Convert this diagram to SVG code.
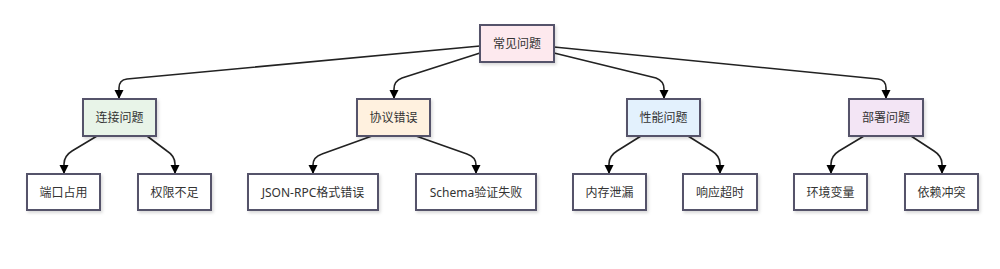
<svg xmlns="http://www.w3.org/2000/svg" width="1000" height="269" viewBox="0 0 1000 269">
<style>
.box{stroke:#55536a;stroke-width:2;filter:url(#sh)}
.t{font-family:"Noto Sans","Noto Sans CJK SC",sans-serif;font-size:12px;fill:#333;text-anchor:middle;dominant-baseline:central}
.e{fill:none;stroke:#222;stroke-width:1.6;marker-end:url(#ah)}
</style>
<defs>
<marker id="ah" markerUnits="userSpaceOnUse" markerWidth="10" markerHeight="10" refX="9" refY="5" orient="auto" viewBox="0 0 10 10">
<path d="M0,0.5 L9,5 L0,9.5 Z" fill="#000"/>
</marker>
<filter id="sh" x="-10%" y="-10%" width="130%" height="140%">
<feDropShadow dx="1.5" dy="2" stdDeviation="1.5" flood-color="#000" flood-opacity="0.15"/>
</filter>
</defs>
<rect width="1000" height="269" fill="#fff"/>
<g id="connectors">
<path class="e" d="M480,46 L127,79 Q119,80 119,88 L119,99"/>
<path class="e" d="M480,53 L402,78 Q394,81 394,89 L394,99"/>
<path class="e" d="M554,53 L656,78 Q664,81 664,89 L664,99"/>
<path class="e" d="M554,47 L878,79 Q886,80 886,88 L886,99"/>
<path class="e" d="M97,136 L72,151 Q64,156 64,164 L64,174"/>
<path class="e" d="M147,136 L167,151 Q175,156 175,164 L175,174"/>
<path class="e" d="M372,136 L322,154 Q313,157 313,165 L313,174"/>
<path class="e" d="M416,136 L467,154 Q476,157 476,165 L476,174"/>
<path class="e" d="M641,136 L617,151 Q609,156 609,164 L609,174"/>
<path class="e" d="M688,136 L712,151 Q720,156 720,164 L720,174"/>
<path class="e" d="M864,136 L839,151 Q831,156 831,164 L831,174"/>
<path class="e" d="M911,136 L934,151 Q942,156 942,164 L942,174"/>
</g>
<g id="root"><rect class="box" x="480" y="25" width="74" height="37" fill="#fde9ee"/><text class="t" x="517" y="43.5">常见问题</text></g>
<g id="n1"><rect class="box" x="83" y="99" width="73" height="37" fill="#e8f4e8"/><text class="t" x="119.5" y="117.5">连接问题</text></g>
<g id="n2"><rect class="box" x="357" y="99" width="73" height="37" fill="#fff1df"/><text class="t" x="393.5" y="117.5">协议错误</text></g>
<g id="n3"><rect class="box" x="627" y="99" width="73" height="37" fill="#e3f1fd"/><text class="t" x="663.5" y="117.5">性能问题</text></g>
<g id="n4"><rect class="box" x="849" y="99" width="74" height="37" fill="#f3e5f5"/><text class="t" x="886" y="117.5">部署问题</text></g>
<g id="l1"><rect class="box" x="27" y="174" width="73" height="36" fill="#fff"/><text class="t" x="63.5" y="192">端口占用</text></g>
<g id="l2"><rect class="box" x="138" y="174" width="73" height="36" fill="#fff"/><text class="t" x="174.5" y="192">权限不足</text></g>
<g id="l3"><rect class="box" x="248" y="174" width="130" height="36" fill="#fff"/><text class="t" x="313" y="192">JSON-RPC格式错误</text></g>
<g id="l4"><rect class="box" x="416" y="174" width="120" height="36" fill="#fff"/><text class="t" x="476" y="192">Schema验证失败</text></g>
<g id="l5"><rect class="box" x="573" y="174" width="73" height="36" fill="#fff"/><text class="t" x="609.5" y="192">内存泄漏</text></g>
<g id="l6"><rect class="box" x="683" y="174" width="74" height="36" fill="#fff"/><text class="t" x="720" y="192">响应超时</text></g>
<g id="l7"><rect class="box" x="794" y="174" width="73" height="36" fill="#fff"/><text class="t" x="830.5" y="192">环境变量</text></g>
<g id="l8"><rect class="box" x="905" y="174" width="73" height="36" fill="#fff"/><text class="t" x="941.5" y="192">依赖冲突</text></g>
</svg>
